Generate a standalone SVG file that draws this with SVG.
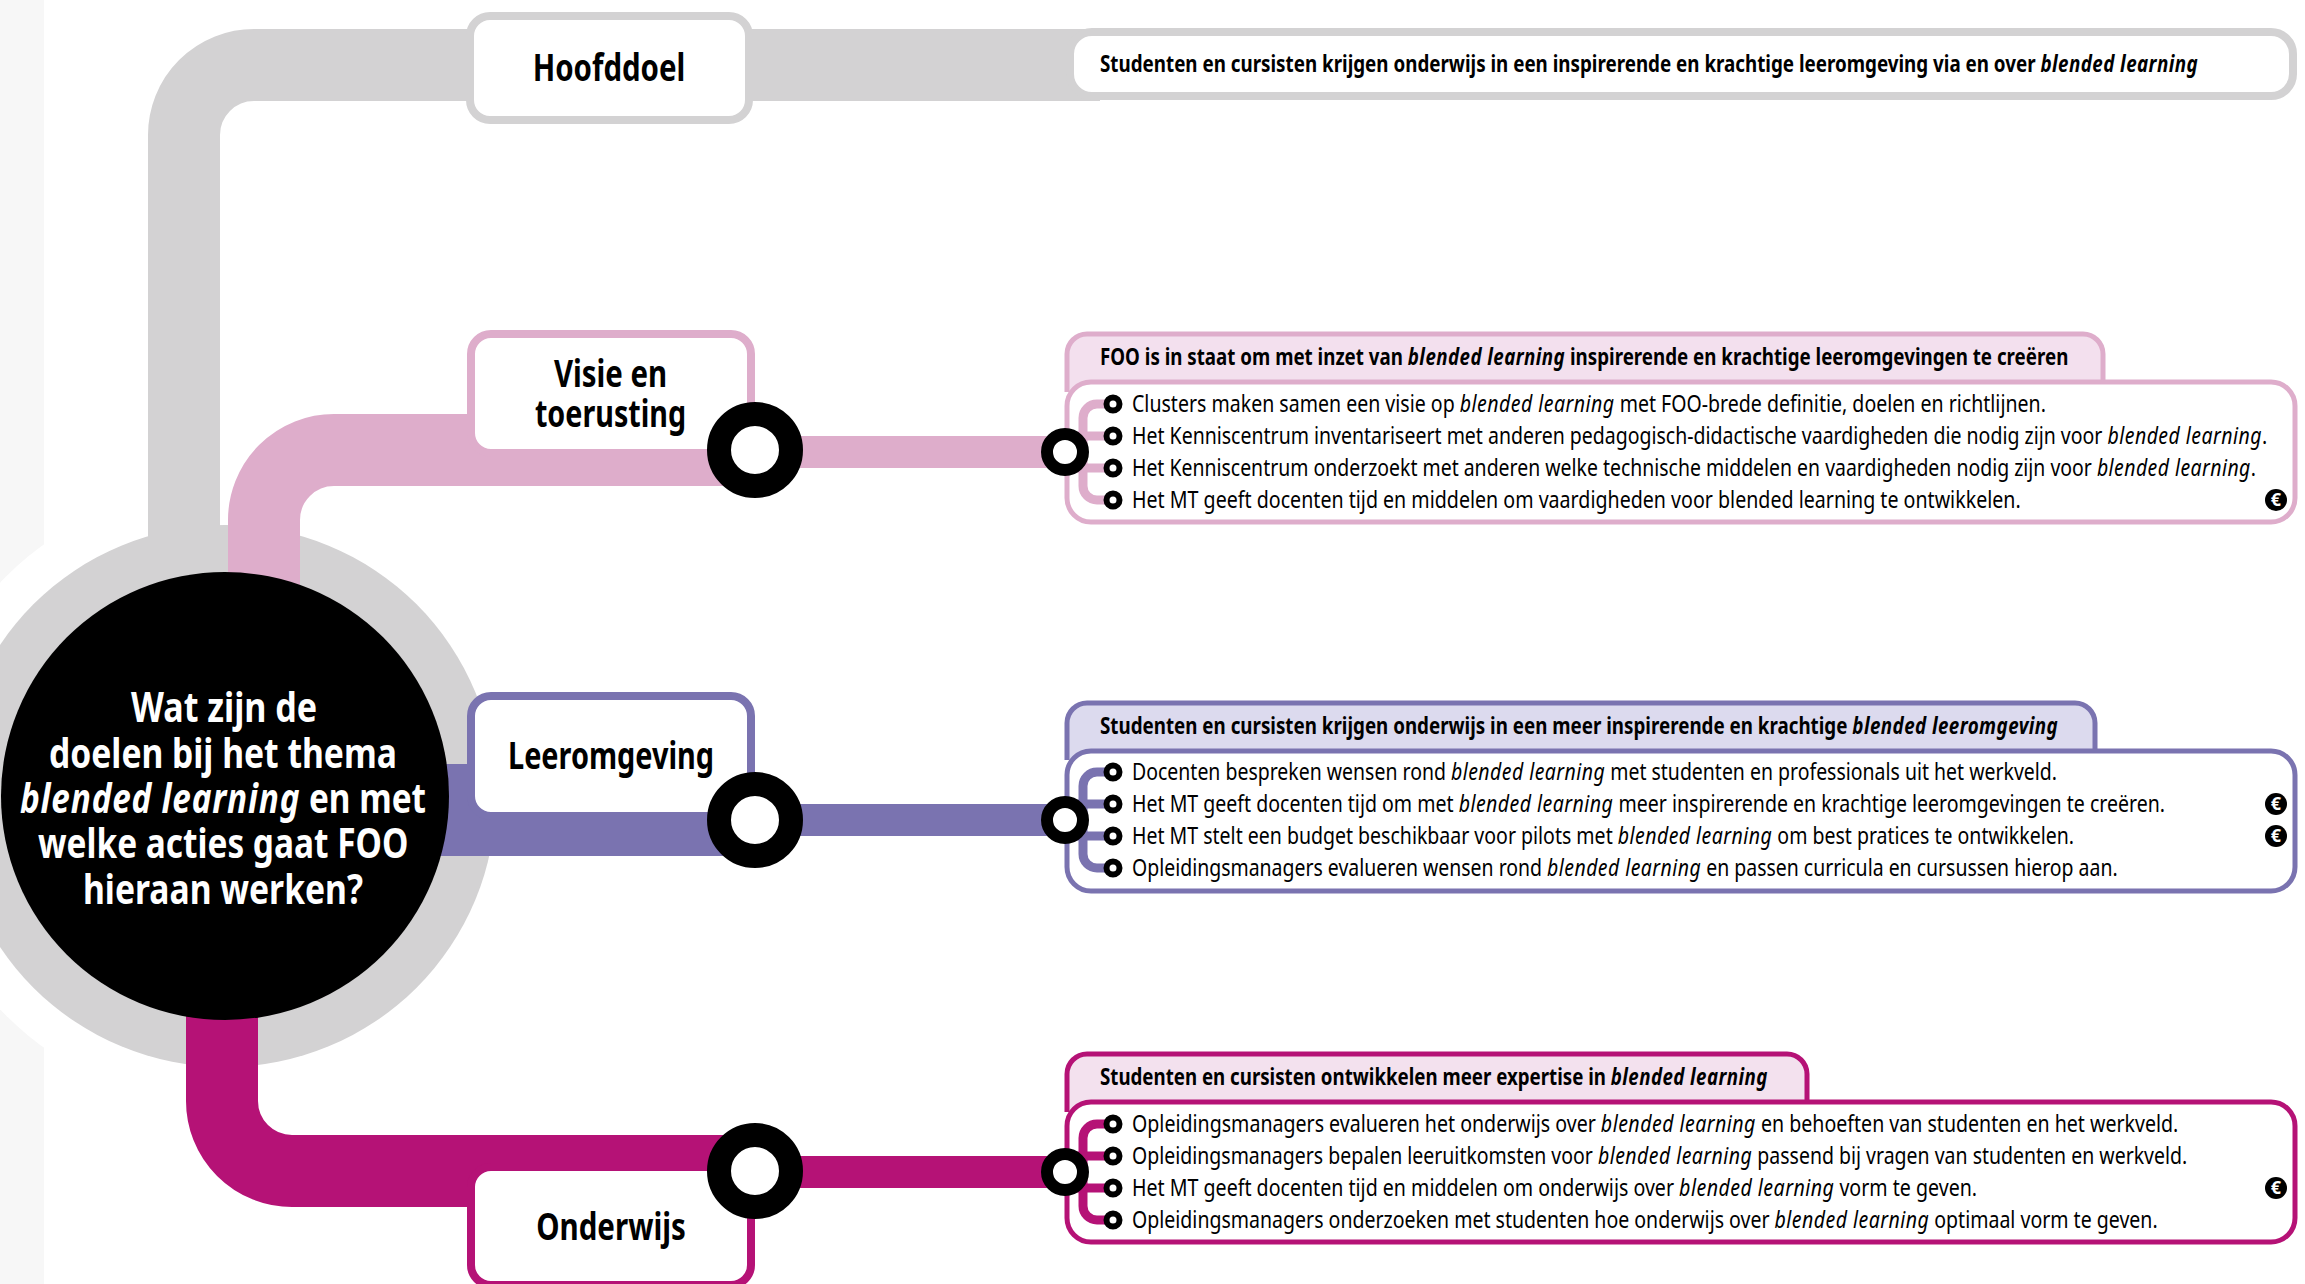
<svg xmlns="http://www.w3.org/2000/svg" width="2305" height="1284" viewBox="0 0 2305 1284">
<style>
text{font-family:"Noto Sans","Liberation Sans",sans-serif;fill:#000}
.h{font-size:24px;font-weight:700}
.t{font-size:24px}
.n{font-size:37px;font-weight:700;text-anchor:middle}
.c{font-size:42px;font-weight:700;fill:#fff}
.i{font-style:italic;letter-spacing:.55px}
.c .i{letter-spacing:1px}
.band{fill:none;stroke-width:72}
.link{fill:none;stroke-width:32}
.brk{fill:none;stroke-width:9}
.big{fill:#fff;stroke:#000;stroke-width:24}
.small{fill:#fff;stroke:#000;stroke-width:12}
.dot{fill:#fff;stroke:#000;stroke-width:6}
.box{fill:#fff;stroke-width:8}
.panel{fill:#fff;stroke-width:5}
.euro{font-size:18px;font-weight:700;fill:#fff;text-anchor:middle}
.g{stroke:#d3d2d3}.p{stroke:#deadcb}.v{stroke:#7a73b0}.m{stroke:#b51276}
</style>
<rect width="2305" height="1284" fill="#fff"/>
<rect x="0" y="0" width="44" height="1284" fill="#f7f7f7"/>
<circle cx="225" cy="796" r="310" fill="#fff"/>
<circle cx="225" cy="796" r="271" fill="#d3d2d3"/>

<g id="panel-visie">
<path class="p" d="M1067 392V354A20 20 0 0 1 1087 334H2083A20 20 0 0 1 2103 354V392" fill="#f3e0ee" stroke-width="5"/>
<rect class="panel p" x="1067" y="382" width="1228" height="140" rx="24"/>
<text class="h" transform="translate(1100 365) scale(.68 1)" textLength="1424" lengthAdjust="spacingAndGlyphs">FOO is in staat om met inzet van <tspan class="i">blended learning</tspan> inspirerende en krachtige leeromgevingen te creëren</text>
<text class="t" transform="translate(1132 412) scale(.74 1)" textLength="1235" lengthAdjust="spacingAndGlyphs">Clusters maken samen een visie op <tspan class="i">blended learning</tspan> met FOO-brede definitie, doelen en richtlijnen.</text>
<text class="t" transform="translate(1132 444) scale(.74 1)" textLength="1534" lengthAdjust="spacingAndGlyphs">Het Kenniscentrum inventariseert met anderen pedagogisch-didactische vaardigheden die nodig zijn voor <tspan class="i">blended learning</tspan>.</text>
<text class="t" transform="translate(1132 476) scale(.74 1)" textLength="1519" lengthAdjust="spacingAndGlyphs">Het Kenniscentrum onderzoekt met anderen welke technische middelen en vaardigheden nodig zijn voor <tspan class="i">blended learning</tspan>.</text>
<text class="t" transform="translate(1132 508) scale(.74 1)" textLength="1201" lengthAdjust="spacingAndGlyphs">Het MT geeft docenten tijd en middelen om vaardigheden voor blended learning te ontwikkelen.</text>
<circle cx="2276" cy="500" r="11"/><text class="euro" x="2276" y="506">€</text>
</g>

<g id="panel-leeromgeving">
<path class="v" d="M1067 760V723A20 20 0 0 1 1087 703H2075A20 20 0 0 1 2095 723V760" fill="#dcdaee" stroke-width="5"/>
<rect class="panel v" x="1067" y="751" width="1228" height="140" rx="24"/>
<text class="h" transform="translate(1100 734) scale(.68 1)" textLength="1409" lengthAdjust="spacingAndGlyphs">Studenten en cursisten krijgen onderwijs in een meer inspirerende en krachtige <tspan class="i">blended leeromgeving</tspan></text>
<text class="t" transform="translate(1132 780) scale(.74 1)" textLength="1250" lengthAdjust="spacingAndGlyphs">Docenten bespreken wensen rond <tspan class="i">blended learning</tspan> met studenten en professionals uit het werkveld.</text>
<text class="t" transform="translate(1132 812) scale(.74 1)" textLength="1396" lengthAdjust="spacingAndGlyphs">Het MT geeft docenten tijd om met <tspan class="i">blended learning</tspan> meer inspirerende en krachtige leeromgevingen te creëren.</text>
<text class="t" transform="translate(1132 844) scale(.74 1)" textLength="1273" lengthAdjust="spacingAndGlyphs">Het MT stelt een budget beschikbaar voor pilots met <tspan class="i">blended learning</tspan> om best pratices te ontwikkelen.</text>
<text class="t" transform="translate(1132 876) scale(.74 1)" textLength="1332" lengthAdjust="spacingAndGlyphs">Opleidingsmanagers evalueren wensen rond <tspan class="i">blended learning</tspan> en passen curricula en cursussen hierop aan.</text>
<circle cx="2276" cy="804" r="11"/><text class="euro" x="2276" y="810">€</text>
<circle cx="2276" cy="836" r="11"/><text class="euro" x="2276" y="842">€</text>
</g>

<g id="panel-onderwijs">
<path class="m" d="M1067 1112V1074A20 20 0 0 1 1087 1054H1787A20 20 0 0 1 1807 1074V1112" fill="#f3e1ee" stroke-width="5"/>
<rect class="panel m" x="1067" y="1102" width="1228" height="140" rx="24"/>
<text class="h" transform="translate(1100 1085) scale(.68 1)" textLength="982" lengthAdjust="spacingAndGlyphs">Studenten en cursisten ontwikkelen meer expertise in <tspan class="i">blended learning</tspan></text>
<text class="t" transform="translate(1132 1132) scale(.74 1)" textLength="1414" lengthAdjust="spacingAndGlyphs">Opleidingsmanagers evalueren het onderwijs over <tspan class="i">blended learning</tspan> en behoeften van studenten en het werkveld.</text>
<text class="t" transform="translate(1132 1164) scale(.74 1)" textLength="1426" lengthAdjust="spacingAndGlyphs">Opleidingsmanagers bepalen leeruitkomsten voor <tspan class="i">blended learning</tspan> passend bij vragen van studenten en werkveld.</text>
<text class="t" transform="translate(1132 1196) scale(.74 1)" textLength="1142" lengthAdjust="spacingAndGlyphs">Het MT geeft docenten tijd en middelen om onderwijs over <tspan class="i">blended learning</tspan> vorm te geven.</text>
<text class="t" transform="translate(1132 1228) scale(.74 1)" textLength="1386" lengthAdjust="spacingAndGlyphs">Opleidingsmanagers onderzoeken met studenten hoe onderwijs over <tspan class="i">blended learning</tspan> optimaal vorm te geven.</text>
<circle cx="2276" cy="1188" r="11"/><text class="euro" x="2276" y="1194">€</text>
</g>

<g id="connectors">
<path class="band g" d="M184 570V135A70 70 0 0 1 254 65H1100"/>
<path class="band p" d="M264 640V520A70 70 0 0 1 334 450H755"/>
<rect x="430" y="764" width="325" height="92" fill="#7a73b0"/>
<path class="band m" d="M222 1000V1101A70 70 0 0 0 292 1171H755"/>
<path class="link p" d="M790 452H1065"/>
<path class="link v" d="M790 820H1065"/>
<path class="link m" d="M790 1172H1065"/>
<path class="brk p" d="M1113 404H1097A14 14 0 0 0 1083 418V486A14 14 0 0 0 1097 500H1113M1070 436H1113M1070 468H1113"/>
<path class="brk v" d="M1113 772H1097A14 14 0 0 0 1083 786V854A14 14 0 0 0 1097 868H1113M1070 804H1113M1070 836H1113"/>
<path class="brk m" d="M1113 1124H1097A14 14 0 0 0 1083 1138V1206A14 14 0 0 0 1097 1220H1113M1070 1156H1113M1070 1188H1113"/>
<circle class="small" cx="1065" cy="452" r="18"/>
<circle class="small" cx="1065" cy="820" r="18"/>
<circle class="small" cx="1065" cy="1172" r="18"/>
<circle class="dot" cx="1113" cy="404" r="6.5"/><circle class="dot" cx="1113" cy="436" r="6.5"/><circle class="dot" cx="1113" cy="468" r="6.5"/><circle class="dot" cx="1113" cy="500" r="6.5"/>
<circle class="dot" cx="1113" cy="772" r="6.5"/><circle class="dot" cx="1113" cy="804" r="6.5"/><circle class="dot" cx="1113" cy="836" r="6.5"/><circle class="dot" cx="1113" cy="868" r="6.5"/>
<circle class="dot" cx="1113" cy="1124" r="6.5"/><circle class="dot" cx="1113" cy="1156" r="6.5"/><circle class="dot" cx="1113" cy="1188" r="6.5"/><circle class="dot" cx="1113" cy="1220" r="6.5"/>
</g>

<g id="panel-hoofddoel">
<rect x="1070" y="32" width="1223" height="64" rx="22" fill="#fff" stroke="#d3d2d3" stroke-width="8"/>
<text class="h" transform="translate(1100 72) scale(.68 1)" textLength="1615" lengthAdjust="spacingAndGlyphs">Studenten en cursisten krijgen onderwijs in een inspirerende en krachtige leeromgeving via en over <tspan class="i">blended learning</tspan></text>
</g>
<g id="node-hoofddoel">
<rect class="box g" x="470" y="16" width="279" height="104" rx="20"/>
<text class="n" transform="translate(609 81) scale(.76 1)" textLength="201" lengthAdjust="spacingAndGlyphs">Hoofddoel</text>
</g>
<g id="node-visie">
<rect class="box p" x="471" y="334" width="280" height="119" rx="20"/>
<text class="n" transform="translate(610.5 387) scale(.76 1)" textLength="149" lengthAdjust="spacingAndGlyphs">Visie en</text>
<text class="n" transform="translate(610.5 427) scale(.76 1)" textLength="199" lengthAdjust="spacingAndGlyphs">toerusting</text>
<circle class="big" cx="755" cy="450" r="36"/>
</g>
<g id="node-leeromgeving">
<rect class="box v" x="471" y="696" width="280" height="120" rx="20"/>
<text class="n" transform="translate(611 769) scale(.76 1)" textLength="271" lengthAdjust="spacingAndGlyphs">Leeromgeving</text>
<circle class="big" cx="755" cy="820" r="36"/>
</g>
<g id="node-onderwijs">
<rect class="box m" x="471" y="1167" width="280" height="118" rx="20"/>
<text class="n" transform="translate(611 1240) scale(.76 1)" textLength="197" lengthAdjust="spacingAndGlyphs">Onderwijs</text>
<circle class="big" cx="755" cy="1171" r="36"/>
</g>
<g id="node-centre">
<circle cx="225" cy="796" r="224" fill="#000"/>
<text class="c" transform="translate(131 722) scale(.7 1)" textLength="266" lengthAdjust="spacingAndGlyphs">Wat zijn de</text>
<text class="c" transform="translate(49 768) scale(.7 1)" textLength="497" lengthAdjust="spacingAndGlyphs">doelen bij het thema</text>
<text class="c" transform="translate(20 813) scale(.7 1)" textLength="580" lengthAdjust="spacingAndGlyphs"><tspan class="i">blended learning</tspan> en met</text>
<text class="c" transform="translate(38 858) scale(.7 1)" textLength="529" lengthAdjust="spacingAndGlyphs">welke acties gaat FOO</text>
<text class="c" transform="translate(83 904) scale(.7 1)" textLength="400" lengthAdjust="spacingAndGlyphs">hieraan werken?</text>
</g>
</svg>
